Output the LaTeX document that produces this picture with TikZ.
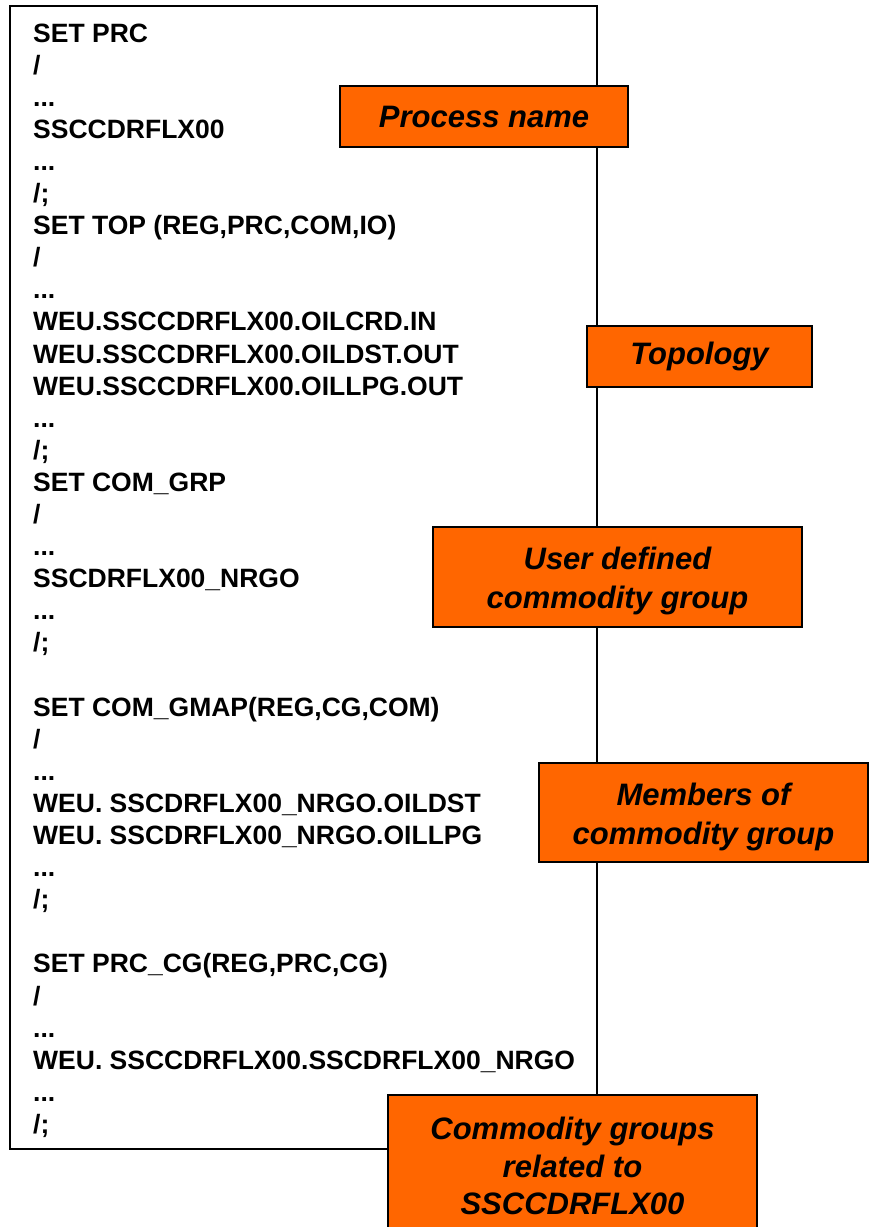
\documentclass[tikz,border=0pt]{standalone}
\usepackage{fontspec}
\setmainfont{Liberation Sans}
\definecolor{tagorange}{HTML}{FF6600}
\tikzset{
  codetext/.style={anchor=base west, inner sep=0pt, text=black,
    font=\fontsize{26.5}{32}\selectfont\bfseries},
  listing/.style={draw=black, line width=2pt, fill=white},
  tag/.style={draw=black, line width=2.2pt, fill=tagorange, align=center,
    inner sep=0pt, font=\fontsize{31}{37.5}\selectfont\bfseries\itshape},
  tagtext/.style={align=center, inner sep=0pt, text=black,
    font=\fontsize{31}{39}\selectfont\bfseries\itshape}
}
% one line of the listing: name, line number, text
\newcommand\codeln[3]{\node[codetext] (#1) at (33,{42+(#2-1)*32.1}) {#3};}
\begin{document}
\begin{tikzpicture}[x=1pt,y=-1pt]
\useasboundingbox (0,0) rectangle (870,1227);
\clip (0,0) rectangle (870,1227);
\fill[white] (0,0) rectangle (870,1227);

% listing frame
\draw[listing] (10,6) rectangle (597,1149);

% listing lines
\codeln{c1}{1}{SET PRC}
\codeln{c2}{2}{/}
\codeln{c3}{3}{...}
\codeln{c4}{4}{SSCCDRFLX00}
\codeln{c5}{5}{...}
\codeln{c6}{6}{/;}
\codeln{c7}{7}{SET TOP (REG,PRC,COM,IO)}
\codeln{c8}{8}{/}
\codeln{c9}{9}{...}
\codeln{c10}{10}{WEU.SSCCDRFLX00.OILCRD.IN}
\codeln{c11}{11}{WEU.SSCCDRFLX00.OILDST.OUT}
\codeln{c12}{12}{WEU.SSCCDRFLX00.OILLPG.OUT}
\codeln{c13}{13}{...}
\codeln{c14}{14}{/;}
\codeln{c15}{15}{SET COM\_GRP}
\codeln{c16}{16}{/}
\codeln{c17}{17}{...}
\codeln{c18}{18}{SSCDRFLX00\_NRGO}
\codeln{c19}{19}{...}
\codeln{c20}{20}{/;}
\codeln{c22}{22}{SET COM\_GMAP(REG,CG,COM)}
\codeln{c23}{23}{/}
\codeln{c24}{24}{...}
\codeln{c25}{25}{WEU. SSCDRFLX00\_NRGO.OILDST}
\codeln{c26}{26}{WEU. SSCDRFLX00\_NRGO.OILLPG}
\codeln{c27}{27}{...}
\codeln{c28}{28}{/;}
\codeln{c30}{30}{SET PRC\_CG(REG,PRC,CG)}
\codeln{c31}{31}{/}
\codeln{c32}{32}{...}
\codeln{c33}{33}{WEU. SSCCDRFLX00.SSCDRFLX00\_NRGO}
\codeln{c34}{34}{...}
\codeln{c35}{35}{/;}

% annotation tags
\node[tag, minimum width=288pt, minimum height=61pt] (procname) at (484,116.5) {Process name};
\node[tag, minimum width=225pt, minimum height=61pt] (topology) at (699.5,356.5) {Topology};
\node[tag, minimum width=369pt, minimum height=100pt] (usergrp) at (617.5,577) {};
\node[tagtext] (usergrp-t) at ([yshift=-4pt]usergrp.center) {User defined\\commodity group};
\node[tag, minimum width=329pt, minimum height=99pt] (members) at (703.5,812.5) {};
\node[tagtext] (members-t) at ([yshift=-4.5pt]members.center) {Members of\\commodity group};
\node[tag, minimum width=369pt, minimum height=142pt] (related) at (572.5,1166) {Commodity groups\\related to\\SSCCDRFLX00};
\end{tikzpicture}
\end{document}
